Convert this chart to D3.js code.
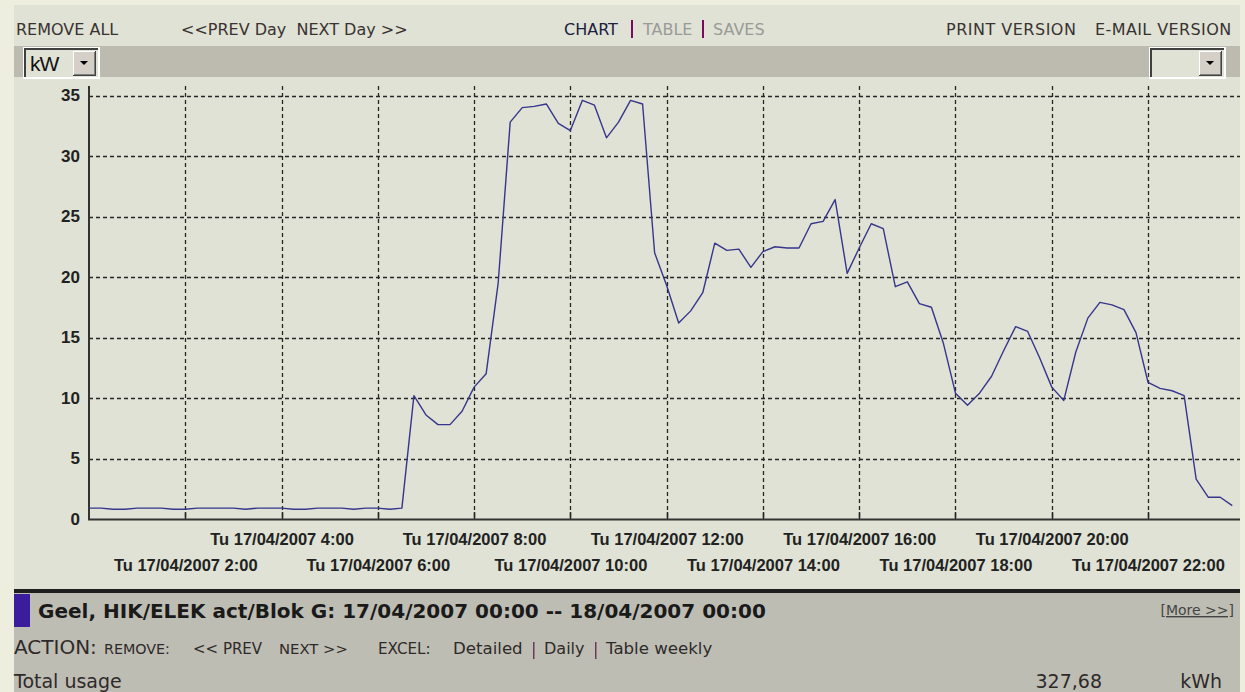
<!DOCTYPE html>
<html><head><meta charset="utf-8">
<script src="https://cdn.jsdelivr.net/npm/d3@7"></script>
<style>body{margin:0;background:#eeeedf;} svg{display:block}</style>
</head><body><svg id="c" width="1245" height="692"></svg>
<script>
// ---- data (15-minute samples, kW) ----
const quarterHours = d3.range(96).map(i => i / 4);
const kW = [0.9,0.9,0.8,0.8,0.9,0.9,0.9,0.8,0.8,0.9,0.9,0.9,0.9,0.8,0.9,0.9,0.9,0.8,0.8,0.9,0.9,0.9,0.8,0.9,0.9,0.8,0.9,
  10.2,8.6,7.8,7.8,8.9,10.9,12.0,19.5,32.8,34.0,34.1,34.3,32.7,32.1,34.6,34.2,31.5,32.8,34.6,34.3,
  22.0,19.3,16.2,17.2,18.7,22.8,22.2,22.3,20.8,22.1,22.5,22.4,22.4,24.4,24.6,26.4,20.3,22.4,24.4,24.0,
  19.2,19.6,17.8,17.5,14.5,10.4,9.4,10.4,11.8,13.9,15.9,15.5,13.3,10.9,9.8,13.8,16.6,17.9,17.7,17.3,15.4,
  11.3,10.8,10.6,10.2,3.3,1.8,1.8,1.1];
const yTicks = [0,5,10,15,20,25,30,35];
const xTicksTop = [4,8,12,16,20];
const xTicksBottom = [2,6,10,14,18,22];
const xTickLabels = {2:"Tu 17/04/2007 2:00",4:"Tu 17/04/2007 4:00",6:"Tu 17/04/2007 6:00",8:"Tu 17/04/2007 8:00",
  10:"Tu 17/04/2007 10:00",12:"Tu 17/04/2007 12:00",14:"Tu 17/04/2007 14:00",16:"Tu 17/04/2007 16:00",
  18:"Tu 17/04/2007 18:00",20:"Tu 17/04/2007 20:00",22:"Tu 17/04/2007 22:00"};
const navLeft = ["REMOVE ALL", "<<PREV Day  NEXT Day >>"];
const navTabs = ["CHART", "TABLE", "SAVES"];
const navRight = ["PRINT VERSION", "E-MAIL VERSION"];
const unit = "kW";
const title = "Geel, HIK/ELEK act/Blok G: 17/04/2007 00:00 -- 18/04/2007 00:00";
const totalLabel = "Total usage", totalValue = "327,68", totalUnit = "kWh";

const svg = d3.select("#c");
const NAV = "DejaVu Sans, Verdana, sans-serif";
const ARIAL = "Liberation Sans, Arial, sans-serif";

// backgrounds
svg.append("rect").attr("width",1245).attr("height",692).attr("fill","#eeeedf");
svg.append("rect").attr("x",14).attr("y",5).attr("width",1226).attr("height",585).attr("fill","#dfe2d4");
svg.append("rect").attr("x",14).attr("y",46).attr("width",1226).attr("height",31).attr("fill","#bdbbb0");
svg.append("rect").attr("x",14).attr("y",589).attr("width",1226).attr("height",4).attr("fill","#1e1e1e");
svg.append("rect").attr("x",14).attr("y",593).attr("width",1226).attr("height",99).attr("fill","#bebdb3");

// nav
const nav = svg.append("g").attr("font-family",NAV).attr("font-size",16).attr("fill","#3a3232");
nav.append("text").attr("x",16).attr("y",35).text(navLeft[0]);
nav.append("text").attr("x",181).attr("y",35).attr("xml:space","preserve").text(navLeft[1]);
nav.append("text").attr("x",564).attr("y",35).attr("fill","#202040").text(navTabs[0]);
nav.append("text").attr("x",643).attr("y",35).attr("fill","#9a9a98").text(navTabs[1]);
nav.append("text").attr("x",713).attr("y",35).attr("fill","#9a9a98").text(navTabs[2]);
[632,703].forEach(x => nav.append("rect").attr("x",x-1).attr("y",20).attr("width",2).attr("height",18).attr("fill","#7a0a60"));
nav.append("text").attr("x",946).attr("y",35).attr("letter-spacing",0.5).text(navRight[0]);
nav.append("text").attr("x",1095).attr("y",35).attr("letter-spacing",0.4).text(navRight[1]);

// dropdowns
function dropdown(x, w, label) {
  const g = svg.append("g");
  g.append("rect").attr("x",x).attr("y",47).attr("width",w).attr("height",32).attr("fill","#ffffff");
  g.append("rect").attr("x",x+1).attr("y",48).attr("width",w-3).attr("height",29).attr("fill","#404040");
  g.append("rect").attr("x",x+3).attr("y",50).attr("width",w-5).attr("height",27).attr("fill","#dfe2d4");
  const bx = x + w - 27;
  g.append("rect").attr("x",bx).attr("y",51).attr("width",23).attr("height",25).attr("fill","#404040");
  g.append("rect").attr("x",bx).attr("y",51).attr("width",22).attr("height",24).attr("fill","#ffffff");
  g.append("rect").attr("x",bx+1).attr("y",52).attr("width",21).attr("height",23).attr("fill","#808080");
  g.append("rect").attr("x",bx+1).attr("y",52).attr("width",20).attr("height",22).attr("fill","#d4d0c8");
  const cx = bx + 11, cy = 63;
  g.append("path").attr("d",`M${cx-4},${cy-2}L${cx+4},${cy-2}L${cx},${cy+2}Z`).attr("fill","#000");
  if (label) g.append("text").attr("x",x+7).attr("y",71).attr("font-family",ARIAL).attr("font-size",21)
    .attr("fill","#111").attr("letter-spacing",-1).text(label);
}
dropdown(23, 77, unit);
dropdown(1149, 77, "");

// scales
const x = d3.scaleLinear().domain([0,24]).range([89, 1244.3]);
const y = d3.scaleLinear().domain([0,35]).range([519, 95.5]);

// grid
const grid = svg.append("g").attr("stroke","#262626").attr("stroke-width",1.3).attr("stroke-dasharray","4,3");
grid.selectAll(".h").data(yTicks.filter(d => d > 0)).join("line")
  .attr("x1",89).attr("x2",1240).attr("y1",d => Math.round(y(d))+0.5).attr("y2",d => Math.round(y(d))+0.5);
grid.selectAll(".v").data(xTicksBottom.concat(xTicksTop)).join("line")
  .attr("x1",d => Math.round(x(d))+0.5).attr("x2",d => Math.round(x(d))+0.5).attr("y1",86).attr("y2",519);
svg.append("g").selectAll("line").data(xTicksBottom.concat(xTicksTop)).join("line")
  .attr("x1",d => Math.round(x(d))+0.5).attr("x2",d => Math.round(x(d))+0.5).attr("y1",512).attr("y2",519)
  .attr("stroke","#262626").attr("stroke-width",1.5);

// axes lines
svg.append("line").attr("x1",89).attr("x2",89).attr("y1",86).attr("y2",520).attr("stroke","#333").attr("stroke-width",2);
svg.append("line").attr("x1",88).attr("x2",1240).attr("y1",519.5).attr("y2",519.5).attr("stroke","#333").attr("stroke-width",2);

// y axis labels
const yAxis = svg.append("g").attr("transform","translate(89,0)")
  .call(d3.axisLeft(y).tickValues(yTicks).tickSize(0).tickPadding(9));
yAxis.select(".domain").remove();
yAxis.selectAll("text").attr("font-family",ARIAL).attr("font-weight","bold").attr("font-size",17).attr("fill","#222");

// x axis labels (two staggered rows)
function xRow(vals, pad) {
  const g = svg.append("g").attr("transform","translate(0,519)")
    .call(d3.axisBottom(x).tickValues(vals).tickFormat(d => xTickLabels[d]).tickSize(0).tickPadding(pad));
  g.select(".domain").remove();
  g.selectAll("text").attr("font-family",ARIAL).attr("font-weight","bold").attr("font-size",16.5).attr("fill","#222");
}
xRow(xTicksTop, 14);
xRow(xTicksBottom, 40);

// data line
svg.append("path").datum(quarterHours.map((h,i) => [h, kW[i]]))
  .attr("fill","none").attr("stroke","#36368c").attr("stroke-width",1.4).attr("stroke-linejoin","round")
  .attr("d", d3.line().x(d => x(d[0])).y(d => y(d[1])));

// bottom section
svg.append("rect").attr("x",14).attr("y",594).attr("width",16).attr("height",33).attr("fill","#3b1c9c");
svg.append("text").attr("x",38).attr("y",618).attr("font-family",NAV).attr("font-weight","bold")
  .attr("font-size",20).attr("fill","#1a1a1a").text(title);
svg.append("text").attr("x",1234).attr("y",615).attr("text-anchor","end").attr("font-family",NAV)
  .attr("font-size",14).attr("fill","#444").attr("text-decoration","underline").text("[More >>]");

const act = svg.append("g").attr("font-family",NAV).attr("fill","#2e2a2a");
const actionItems = [
  {t:"ACTION:", x:14, s:20}, {t:"REMOVE:", x:104, s:14.3}, {t:"<< PREV", x:193, s:15}, {t:"NEXT >>", x:279, s:14.8},
  {t:"EXCEL:", x:378, s:15.2}, {t:"Detailed", x:453, s:16.6}, {t:"Daily", x:544, s:16}, {t:"Table weekly", x:606, s:16.6}
];
actionItems.forEach(d => act.append("text").attr("x",d.x).attr("y",654).attr("font-size",d.s).text(d.t));
[533,595].forEach(xx => act.append("rect").attr("x",xx).attr("y",642).attr("width",1.5).attr("height",17).attr("fill","#6a3a60"));

const tot = svg.append("g").attr("font-family",NAV).attr("font-size",19).attr("fill","#2e2a2a");
tot.append("text").attr("x",14).attr("y",688).text(totalLabel);
tot.append("text").attr("x",1102).attr("y",688).attr("text-anchor","end").text(totalValue);
tot.append("text").attr("x",1222).attr("y",688).attr("text-anchor","end").text(totalUnit);
</script></body></html>
